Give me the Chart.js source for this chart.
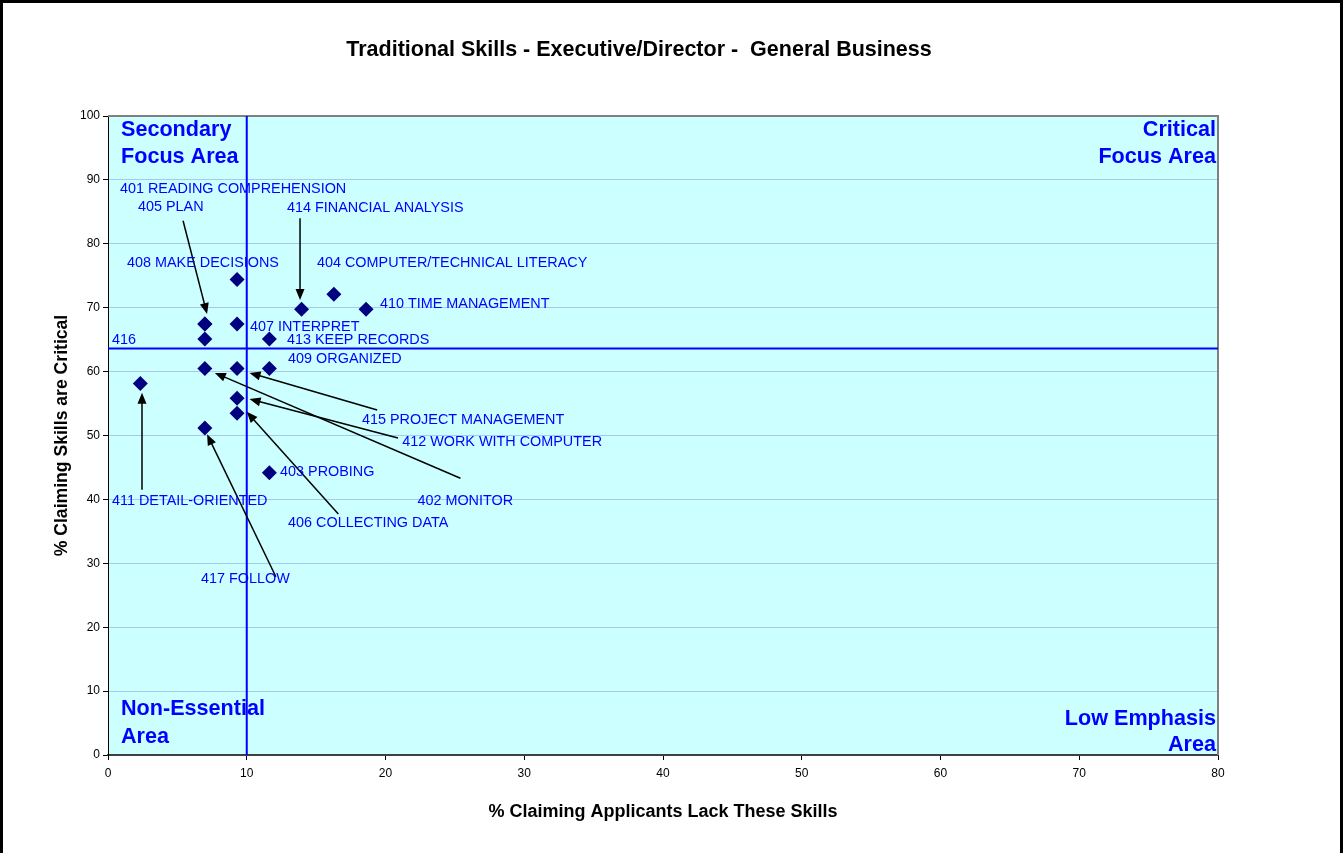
<!DOCTYPE html>
<html>
<head>
<meta charset="utf-8">
<script src="https://cdn.jsdelivr.net/npm/chart.js@4.4.1/dist/chart.umd.min.js"></script>
<style>
html, body { margin: 0; padding: 0; background: #fff; overflow: hidden; }
#wrap { position: absolute; left: 0; top: 0; width: 1343px; height: 853px; }
#frame { position: absolute; left: 0; top: 0; width: 1337px; height: 900px; border: 3px solid #000; border-bottom: none; pointer-events: none; }
</style>
</head>
<body>
<div id="wrap"><canvas id="grafica" width="1343" height="853"></canvas></div>
<div id="frame"></div>
<script>
// --- DATOS ---
const categorias = [
    '401 READING COMPREHENSION', '402 MONITOR', '403 PROBING', '404 COMPUTER/TECHNICAL LITERACY',
    '405 PLAN', '406 COLLECTING DATA', '407 INTERPRET', '408 MAKE DECISIONS', '409 ORGANIZED',
    '410 TIME MANAGEMENT', '411 DETAIL-ORIENTED', '412 WORK WITH COMPUTER', '413 KEEP RECORDS',
    '414 FINANCIAL ANALYSIS', '415 PROJECT MANAGEMENT', '416', '417 FOLLOW'
];
// % Claiming Applicants Lack These Skills
const faltaHabilidad = [6.98, 6.98, 11.63, 16.28, 6.98, 9.30, 9.30, 9.30, 11.63, 18.60, 2.33, 9.30, 11.63, 13.95, 9.30, 6.98, 6.98];
// % Claiming Skills are Critical
const criticas = [67.44, 60.47, 44.19, 72.09, 67.44, 53.49, 67.44, 74.42, 60.47, 69.77, 58.14, 55.81, 65.12, 69.77, 60.47, 65.12, 51.16];

const ticksX = [0, 10, 20, 30, 40, 50, 60, 70, 80];
const ticksY = [0, 10, 20, 30, 40, 50, 60, 70, 80, 90, 100];
const umbralX = 10;
const umbralY = 63.6;

// --- POSICION DE ETIQUETAS (en unidades de datos) ---
const posEtiquetas = {
    '401': [0.86, 88.6], '405': [2.16, 85.8], '414': [12.9, 85.6], '408': [1.37, 77.0],
    '404': [15.06, 77.0], '410': [19.6, 70.6], '407': [10.23, 66.98], '416': [0.29, 65.0],
    '413': [12.9, 65.0], '409': [12.98, 62.0], '415': [18.3, 52.4], '412': [21.2, 49.0],
    '403': [12.4, 44.3], '411': [0.29, 39.7], '402': [22.3, 39.7], '406': [12.98, 36.3],
    '417': [6.7, 27.5]
};
const flechas = [
    [5.41, 83.6, 7.14, 69.0],
    [13.84, 84.0, 13.84, 71.2],
    [2.45, 41.5, 2.45, 56.7],
    [12.1, 27.9, 7.14, 50.2],
    [16.6, 37.7, 10.0, 53.7],
    [25.4, 43.3, 7.7, 59.8],
    [19.4, 54.0, 10.2, 59.8],
    [20.9, 49.6, 10.2, 55.7]
];

const AZUL = '#0000ff';
const FAM = 'Arial, "Liberation Sans", sans-serif';

const fondoPlugin = {
    id: 'fondo',
    beforeDraw(chart) {
        const { ctx, chartArea: a } = chart;
        ctx.save();
        ctx.fillStyle = '#ccffff';
        ctx.fillRect(a.left, a.top, a.right - a.left, a.bottom - a.top);
        ctx.restore();
    },
    beforeDatasetsDraw(chart) {
        const { ctx, chartArea: a } = chart;
        ctx.save();
        ctx.strokeStyle = '#808080';
        ctx.lineWidth = 2;
        ctx.beginPath();
        ctx.moveTo(a.left, a.top);
        ctx.lineTo(a.right, a.top);
        ctx.lineTo(a.right, a.bottom);
        ctx.stroke();
        ctx.restore();
    }
};

function flecha(ctx, x1, y1, x2, y2) {
    const ang = Math.atan2(y2 - y1, x2 - x1);
    const L = 11, W = 4.5;
    ctx.beginPath();
    ctx.moveTo(x1, y1);
    ctx.lineTo(x2 - Math.cos(ang) * L * 0.8, y2 - Math.sin(ang) * L * 0.8);
    ctx.stroke();
    ctx.beginPath();
    ctx.moveTo(x2, y2);
    ctx.lineTo(x2 - Math.cos(ang) * L + Math.sin(ang) * W, y2 - Math.sin(ang) * L - Math.cos(ang) * W);
    ctx.lineTo(x2 - Math.cos(ang) * L - Math.sin(ang) * W, y2 - Math.sin(ang) * L + Math.cos(ang) * W);
    ctx.closePath();
    ctx.fill();
}

const textosPlugin = {
    id: 'textos',
    afterDatasetsDraw(chart) {
        const { ctx, chartArea: a, scales: { x, y } } = chart;
        ctx.save();

        // flechas
        ctx.strokeStyle = '#000';
        ctx.fillStyle = '#000';
        ctx.lineWidth = 1.5;
        flechas.forEach(f => flecha(ctx, x.getPixelForValue(f[0]), y.getPixelForValue(f[1]), x.getPixelForValue(f[2]), y.getPixelForValue(f[3])));

        // etiquetas de puntos
        ctx.fillStyle = AZUL;
        ctx.font = '14.4px ' + FAM;
        ctx.textAlign = 'left';
        ctx.textBaseline = 'middle';
        categorias.forEach(c => {
            const p = posEtiquetas[c.slice(0, 3)];
            ctx.fillText(c, x.getPixelForValue(p[0]), y.getPixelForValue(p[1]));
        });

        // cuadrantes
        ctx.font = 'bold 21.6px ' + FAM;
        ctx.fillText('Secondary', a.left + 13, a.top + 14);
        ctx.fillText('Focus Area', a.left + 13, a.top + 41);
        ctx.fillText('Non-Essential', a.left + 13, a.bottom - 46);
        ctx.fillText('Area', a.left + 13, a.bottom - 18);
        ctx.textAlign = 'right';
        ctx.fillText('Critical', a.right - 2, a.top + 14);
        ctx.fillText('Focus Area', a.right - 2, a.top + 41);
        ctx.fillText('Low Emphasis', a.right - 2, a.bottom - 36);
        ctx.fillText('Area', a.right - 2, a.bottom - 10);

        // titulos
        ctx.fillStyle = '#000';
        ctx.textAlign = 'center';
        ctx.font = 'bold 21.5px ' + FAM;
        ctx.fillText('Traditional Skills - Executive/Director -  General Business', 639, 50);
        ctx.font = 'bold 18px ' + FAM;
        ctx.fillText('% Claiming Applicants Lack These Skills', (a.left + a.right) / 2, 812);
        ctx.translate(62, (a.top + a.bottom) / 2);
        ctx.rotate(-Math.PI / 2);
        ctx.font = 'bold 17.6px ' + FAM;
        ctx.fillText('% Claiming Skills are Critical', 0, 0);
        ctx.restore();
    }
};

const fuenteTicks = { family: FAM, size: 12 };

new Chart(document.getElementById('grafica').getContext('2d'), {
    type: 'scatter',
    data: {
        datasets: [
            {
                label: 'Skills',
                data: categorias.map((c, i) => ({ x: faltaHabilidad[i], y: criticas[i] })),
                pointStyle: 'rectRot',
                pointRadius: 7.5,
                backgroundColor: '#000080',
                borderColor: '#000080',
                borderWidth: 0,
                order: 0
            },
            {
                type: 'line',
                data: [{ x: umbralX, y: 0 }, { x: umbralX, y: 100 }],
                borderColor: AZUL, borderWidth: 2, pointRadius: 0, order: 1
            },
            {
                type: 'line',
                data: [{ x: 0, y: umbralY }, { x: 80, y: umbralY }],
                borderColor: AZUL, borderWidth: 2, pointRadius: 0, order: 1
            }
        ]
    },
    options: {
        responsive: false,
        animation: false,
        devicePixelRatio: 1,
        layout: { padding: { top: 116, right: 125, left: 0, bottom: 0 } },
        plugins: { legend: { display: false }, tooltip: { enabled: false } },
        scales: {
            x: {
                type: 'linear', min: 0, max: 80,
                afterBuildTicks: s => { s.ticks = ticksX.map(v => ({ value: v })); },
                afterFit: s => { s.height = 98; },
                grid: { drawOnChartArea: false, tickLength: 5, tickColor: '#000' },
                border: { color: '#404040', width: 2 },
                ticks: { font: fuenteTicks, color: '#000', padding: 6, maxRotation: 0 }
            },
            y: {
                type: 'linear', min: 0, max: 100,
                afterBuildTicks: s => { s.ticks = ticksY.map(v => ({ value: v })); },
                afterFit: s => { s.width = 108; },
                grid: { color: '#a8c8f0', tickLength: 5, tickColor: '#000' },
                border: { color: '#000', width: 1 },
                ticks: { font: fuenteTicks, color: '#000', padding: 3 }
            }
        }
    },
    plugins: [fondoPlugin, textosPlugin]
});
</script>
</body>
</html>
